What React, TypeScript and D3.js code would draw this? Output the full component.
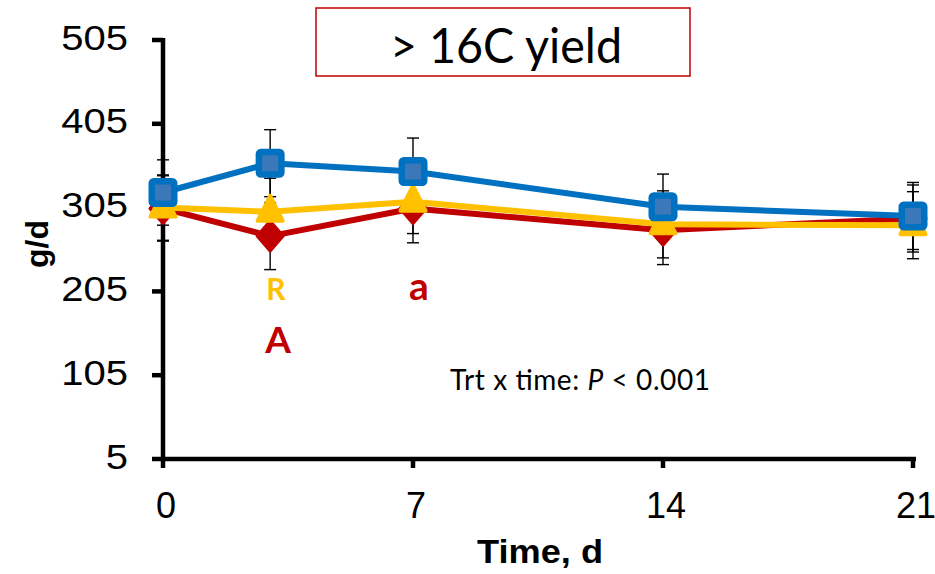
import React from "react";
import * as d3 from "d3";

// Sampling days (x axis) and y-axis tick values
const days = [0, 3, 7, 14, 21];
const xTicks = [0, 7, 14, 21];
const yTicks = [5, 105, 205, 305, 405, 505];

// Mean yield (g/d) per treatment and its standard error
const blueMeans = [323, 358, 348, 306, 295];
const blueSE = [39, 40, 40, 39, 40];
const yellowMeans = [305, 300, 312, 285, 284];
const yellowSE = [39, 40, 38, 40, 40];
const redMeans = [304, 271, 304, 278, 292];
const redSE = [39, 40, 41, 41, 40];

const W = 935;
const H = 574;

const x = d3.scaleLinear().domain([0, 21]).range([163, 913]);
const y = d3.scaleLinear().domain([5, 505]).range([459, 40]);

type Pt = { d: number; v: number; se: number };
const toPts = (m: number[], s: number[]): Pt[] =>
  days.map((d, i) => ({ d, v: m[i], se: s[i] }));

const blue = toPts(blueMeans, blueSE);
const yellow = toPts(yellowMeans, yellowSE);
const red = toPts(redMeans, redSE);

const line = d3
  .line<Pt>()
  .x((p) => x(p.d))
  .y((p) => y(p.v));

const C_BLUE = "#0070C0";
const C_BLUE_IN = "#3A78B9";
const C_YELLOW = "#FFC000";
const C_RED = "#C00000";

function ErrorBars({ pts }: { pts: Pt[] }) {
  return (
    <g stroke="#000" strokeWidth={1.4} fill="none">
      {pts.map((p, i) => {
        const cx = x(p.d);
        const y1 = y(p.v + p.se);
        const y2 = y(p.v - p.se);
        return (
          <g key={i}>
            <line x1={cx} x2={cx} y1={y1} y2={y2} />
            <line x1={cx - 6} x2={cx + 6} y1={y1} y2={y1} />
            <line x1={cx - 6} x2={cx + 6} y1={y2} y2={y2} />
          </g>
        );
      })}
    </g>
  );
}

function Squares({ pts }: { pts: Pt[] }) {
  const s = 22.5;
  return (
    <g>
      {pts.map((p, i) => (
        <rect
          key={i}
          x={x(p.d) - s / 2}
          y={y(p.v) - s / 2}
          width={s}
          height={s}
          rx={2}
          fill={C_BLUE_IN}
          stroke={C_BLUE}
          strokeWidth={6.5}
          strokeLinejoin="round"
        />
      ))}
    </g>
  );
}

function Triangles({ pts }: { pts: Pt[] }) {
  const hw = 12.5;
  const up = 16;
  const down = 9;
  return (
    <g>
      {pts.map((p, i) => {
        const cx = x(p.d);
        const cy = y(p.v);
        const d = `M${cx},${cy - up}L${cx + hw},${cy + down}L${cx - hw},${cy + down}Z`;
        return (
          <path
            key={i}
            d={d}
            fill={C_YELLOW}
            stroke={C_YELLOW}
            strokeWidth={4}
            strokeLinejoin="round"
          />
        );
      })}
    </g>
  );
}

function Diamonds({ pts }: { pts: Pt[] }) {
  const hw = 13;
  const hh = 15;
  return (
    <g>
      {pts.map((p, i) => {
        const cx = x(p.d);
        const cy = y(p.v);
        const d = `M${cx},${cy - hh}L${cx + hw},${cy}L${cx},${cy + hh}L${cx - hw},${cy}Z`;
        return (
          <path
            key={i}
            d={d}
            fill={C_RED}
            stroke={C_RED}
            strokeWidth={3}
            strokeLinejoin="round"
          />
        );
      })}
    </g>
  );
}

export default function App() {
  const axisY = y(5);
  return (
    <svg
      width={W}
      height={H}
      viewBox={`0 0 ${W} ${H}`}
      style={{ position: "absolute", left: 0, top: 0, background: "#fff" }}
    >
      <rect width={W} height={H} fill="#fff" />

      {/* Title box */}
      <rect x={316} y={8} width={374} height={68} fill="#fff" stroke={C_RED} strokeWidth={1.5} />
      <text
        x={506}
        y={63}
        textAnchor="middle"
        fontFamily="Lato, 'Open Sans', sans-serif"
        fontSize={48}
        textLength={232}
        lengthAdjust="spacingAndGlyphs"
        fill="#000"
      >
        {"> 16C yield"}
      </text>

      {/* Error bars sit behind lines and markers */}
      <ErrorBars pts={red} />
      <ErrorBars pts={yellow} />
      <ErrorBars pts={blue} />

      {/* Y axis */}
      <line x1={x(0)} x2={x(0)} y1={y(505) - 2} y2={axisY + 2} stroke="#000" strokeWidth={4.5} />
      {yTicks.map((t) => (
        <g key={t}>
          <line x1={x(0) - 11} x2={x(0)} y1={y(t)} y2={y(t)} stroke="#000" strokeWidth={4.5} />
          <text
            transform={`translate(128,${y(t) + 9.5}) scale(1.16,1)`}
            textAnchor="end"
            fontFamily="'Liberation Sans', Arial, sans-serif"
            fontSize={34.5}
            fill="#000"
          >
            {t}
          </text>
        </g>
      ))}

      {/* X axis */}
      <line x1={x(0) - 2} x2={x(21) + 3} y1={axisY} y2={axisY} stroke="#000" strokeWidth={4.5} />
      {xTicks.map((t) => (
        <g key={t}>
          <line x1={x(t)} x2={x(t)} y1={axisY} y2={axisY + 9} stroke="#000" strokeWidth={4.5} />
          <text
            x={x(t) + 3}
            y={518}
            textAnchor="middle"
            fontFamily="'Liberation Sans', Arial, sans-serif"
            fontSize={36}
            fill="#000"
          >
            {t}
          </text>
        </g>
      ))}

      {/* Axis titles */}
      <text
        x={540}
        y={563}
        textAnchor="middle"
        fontFamily="'Liberation Sans', Arial, sans-serif"
        fontWeight="bold"
        fontSize={33}
        textLength={126}
        lengthAdjust="spacingAndGlyphs"
        fill="#000"
      >
        Time, d
      </text>
      <text
        transform="translate(48,244) rotate(-90)"
        textAnchor="middle"
        fontFamily="'Liberation Sans', Arial, sans-serif"
        fontWeight="bold"
        fontSize={32}
        fill="#000"
      >
        g/d
      </text>

      {/* Series: red below, yellow middle, blue on top */}
      <path d={line(red) ?? ""} fill="none" stroke={C_RED} strokeWidth={6} strokeLinejoin="round" />
      <Diamonds pts={red} />
      <path d={line(yellow) ?? ""} fill="none" stroke={C_YELLOW} strokeWidth={6} strokeLinejoin="round" />
      <Triangles pts={yellow} />
      <path d={line(blue) ?? ""} fill="none" stroke={C_BLUE} strokeWidth={6} strokeLinejoin="round" />
      <Squares pts={blue} />

      {/* Significance letters */}
      <g fontFamily="Lato, 'Open Sans', sans-serif" fontWeight="bold" textAnchor="middle">
        <text x={276} y={300} fontSize={30} fill={C_YELLOW}>R</text>
        <text x={419} y={300} fontSize={39} fill={C_RED}>a</text>
        <text x={278} y={353} fontSize={37} fill={C_RED}>A</text>
      </g>

      {/* Interaction test */}
      <text
        x={450}
        y={390}
        fontFamily="Lato, 'Open Sans', sans-serif"
        fontSize={28}
        fill="#000"
        textLength={260}
        lengthAdjust="spacing"
      >
        Trt x time: <tspan fontStyle="italic">P</tspan> &lt; 0.001
      </text>
    </svg>
  );
}
